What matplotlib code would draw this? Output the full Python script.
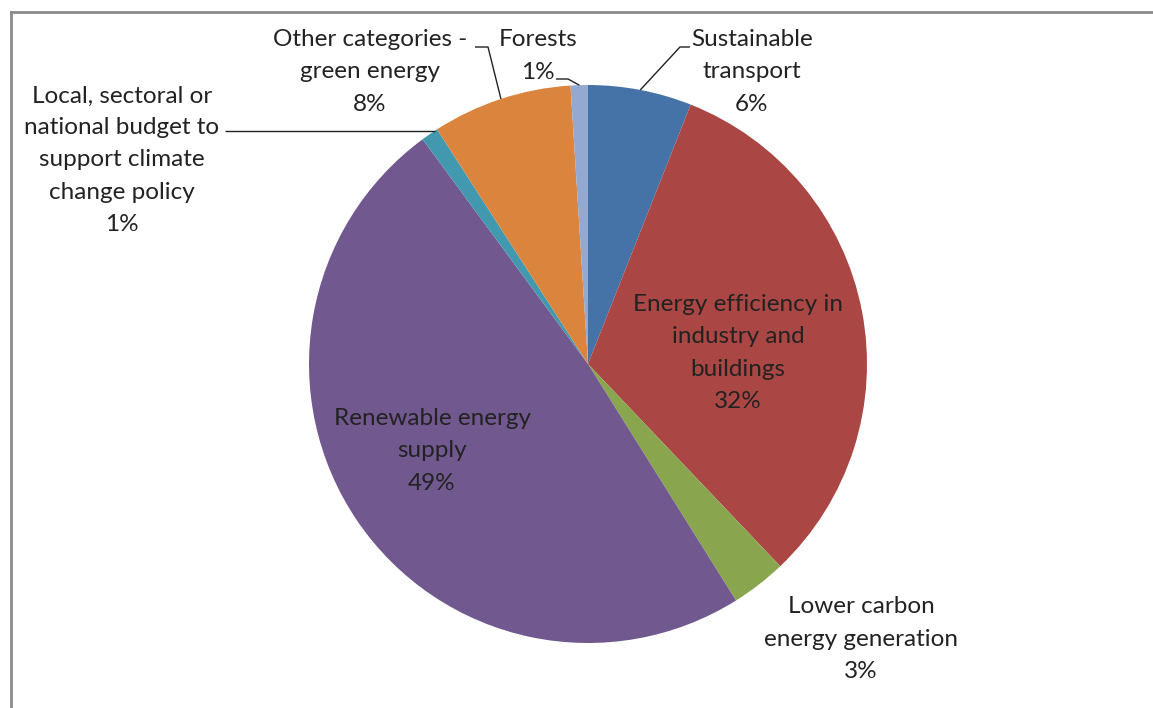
import matplotlib
matplotlib.use('Agg')
import matplotlib.pyplot as plt
from matplotlib.lines import Line2D
import numpy as np

# data, clockwise from 12 o'clock
categories = ['Sustainable\ntransport', 'Energy efficiency in\nindustry and\nbuildings',
              'Lower carbon\nenergy generation', 'Renewable energy\nsupply',
              'Local, sectoral or\nnational budget to\nsupport climate\nchange policy',
              'Other categories -\ngreen energy', 'Forests']
shares = [6.0, 31.9, 3.2, 48.8, 1.0, 8.1, 1.0]
pct_labels = ['6%', '32%', '3%', '49%', '1%', '8%', '1%']
colors = ['#4572A7', '#AA4643', '#89A54E', '#71588F', '#4198AF', '#DB843D', '#93A9CF']

plt.rcParams['font.family'] = ['Lato', 'DejaVu Sans']

W, H = 1153, 708
fig = plt.figure(figsize=(W / 100, H / 100), dpi=100)

# pie centre / radius in pixels
cx, cy, r = 588, 364, 279
ax = fig.add_axes([(cx - r) / W, (H - cy - r) / H, 2 * r / W, 2 * r / H])
wedges, _ = ax.pie(shares, colors=colors, startangle=90, counterclock=False,
                   radius=1, wedgeprops=dict(linewidth=0))
ax.set_xlim(-1, 1)
ax.set_ylim(-1, 1)
ax.set_aspect('equal')
ax.axis('off')


def px(x, y):
    # pixel position -> data coords of the pie axes
    return (x - cx) / r, (cy - y) / r


# label centres in pixels
label_pos = [(752, 72), (738, 353), (861, 639), (432, 451), (122, 160), (370, 72), (538, 56)]
for name, pct, (lx, ly) in zip(categories, pct_labels, label_pos):
    x, y = px(lx, ly)
    ax.text(x, y, name + '\n' + pct, ha='center', va='center', fontsize=17.5,
            color='#222222', linespacing=1.65, clip_on=False)


def edge(i):
    ang = np.deg2rad((wedges[i].theta1 + wedges[i].theta2) / 2)
    return np.cos(ang), np.sin(ang)


# leader lines
leaders = [
    (0, [(690, 47), (680, 47)]),
    (4, [(225, 131)]),
    (5, [(475, 47), (488, 47)]),
    (6, [(556, 79), (568, 79)]),
]
for i, pts in leaders:
    xs = [px(*p)[0] for p in pts]
    ys = [px(*p)[1] for p in pts]
    ex, ey = edge(i)
    if i == 4:
        ey = ys[0]
        ex = -np.sqrt(1 - ey ** 2)
    xs.append(ex)
    ys.append(ey)
    ax.plot(xs, ys, color='#222222', lw=1, clip_on=False, solid_capstyle='butt')

# chart frame (only top and left edges are inside the picture)
fig.add_artist(Line2D([11 / W, 11 / W], [0, 1 - 12 / H], color='#8c8c8c', lw=2))
fig.add_artist(Line2D([11 / W, 1], [1 - 12 / H, 1 - 12 / H], color='#8c8c8c', lw=2))

fig.savefig('out.png', dpi=100, facecolor='white')
